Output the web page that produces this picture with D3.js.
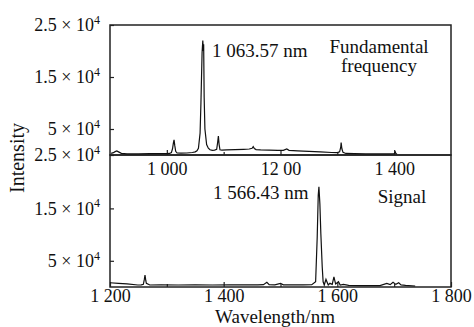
<!DOCTYPE html>
<html>
<head>
<meta charset="utf-8">
<script src="https://cdn.jsdelivr.net/npm/d3@7"></script>
<style>
  html, body { margin: 0; padding: 0; background: #fff; }
  svg text { font-family: "Liberation Serif", "Times New Roman", Times, "DejaVu Serif", serif; fill: #111; }
</style>
</head>
<body>
<div id="chart"></div>
<script>
// fundamental spectrum (upper panel)
const fundWl = [902, 906, 909, 912, 915, 920, 930, 950, 970, 990, 1000, 1005, 1008, 1010, 1011.5, 1012.7, 1014, 1015.6, 1018, 1025, 1035, 1045, 1050, 1053, 1055.6, 1058.5, 1060, 1062, 1063.3, 1064.2, 1064.8, 1065.7, 1067, 1070, 1073, 1076, 1080, 1084, 1087.7, 1089.5, 1090.7, 1092, 1093.5, 1097, 1105, 1120, 1135, 1145, 1150, 1152, 1154, 1157, 1165, 1180, 1195, 1205, 1211, 1215, 1230, 1250, 1270, 1290, 1300, 1304, 1306, 1306.7, 1308, 1310, 1315, 1330, 1350, 1370, 1390, 1400, 1402, 1403, 1405];
const fundVal = [320, 450, 650, 770, 600, 320, 220, 230, 250, 260, 280, 300, 450, 1200, 2300, 2900, 1800, 700, 380, 350, 380, 480, 600, 800, 1290, 4200, 10000, 19600, 22000, 20000, 21300, 11000, 5000, 2000, 1300, 1000, 900, 950, 1100, 2500, 3650, 2000, 1000, 950, 1000, 1050, 1100, 1150, 1300, 1600, 1250, 1050, 1000, 950, 900, 900, 1150, 900, 800, 700, 600, 480, 450, 600, 1500, 2400, 1200, 500, 300, 250, 230, 220, 220, 250, 580, 300, 200];

// signal spectrum (lower panel)
const sigWl = [1200, 1215, 1230, 1249, 1255, 1258.7, 1260.5, 1261.6, 1263, 1264, 1270, 1290, 1320, 1350, 1380, 1410, 1440, 1460, 1470, 1476, 1480, 1490, 1500, 1505, 1520, 1540, 1555, 1561.8, 1564.6, 1566.4, 1567.6, 1569.3, 1571, 1573.4, 1575, 1577, 1580, 1584, 1587, 1591, 1594, 1597, 1602, 1605, 1610.6, 1620, 1640, 1660, 1675, 1687, 1693, 1698, 1703, 1708, 1712, 1720, 1737];
const sigVal = [815, 700, 600, 380, 420, 510, 1500, 2270, 1200, 700, 380, 400, 380, 420, 380, 400, 420, 400, 450, 890, 450, 400, 700, 420, 400, 420, 450, 1000, 9530, 17500, 19130, 15850, 10170, 3850, 1000, 380, 1450, 380, 700, 500, 1950, 570, 1000, 380, 500, 300, 250, 280, 250, 700, 450, 890, 500, 800, 400, 300, 190];

// ticks
const topXTicks = [1000, 1200, 1400];
const topXLabels = ["1 000", "12 00", "1 400"];
const botXTicks = [1200, 1400, 1600, 1800];
const botXLabels = ["1 200", "1 400", "1 600", "1 800"];
const topYTicks = [0, 5000, 15000, 25000];
const topYLabels = ["2.5 \u00d7 10", "5 \u00d7 10", "1.5 \u00d7 10", "2.5 \u00d7 10"];
const botYTicks = [5000, 15000];
const botYLabels = ["5 \u00d7 10", "1.5 \u00d7 10"];

const width = 474, height = 327;
const left = 110, right = 451;
const topY0 = 25, midY = 155, botY1 = 287;
const serif = '"Liberation Serif", "Times New Roman", Times, serif';

const svg = d3.select('#chart').append('svg')
  .attr('width', width)
  .attr('height', height);

const xTop = d3.scaleLinear().domain([900, 1500]).range([left, right]);
const xBot = d3.scaleLinear().domain([1200, 1800]).range([left, right]);
const yTop = d3.scaleLinear().domain([0, 25000]).range([midY, topY0]);
const yBot = d3.scaleLinear().domain([0, 25000]).range([botY1, midY + 1]);

function styleAxis(g) {
  g.attr('font-family', serif);
  g.select('.domain').remove();
  g.selectAll('line').attr('stroke', '#222').attr('stroke-width', 1.2);
  g.selectAll('text').attr('font-size', 18).attr('fill', '#111');
}

// x axes, ticks pointing inward
svg.append('g')
  .attr('transform', `translate(0,${midY})`)
  .call(d3.axisBottom(xTop).tickValues(topXTicks).tickSize(-5).tickPadding(7)
    .tickFormat((d, i) => topXLabels[i]))
  .call(styleAxis);

svg.append('g')
  .attr('transform', `translate(0,${midY})`)
  .call(d3.axisBottom(xTop).tickValues([1100, 1300]).tickSize(-3).tickFormat(''))
  .call(styleAxis);

svg.append('g')
  .attr('transform', `translate(0,${botY1})`)
  .call(d3.axisBottom(xBot).tickValues(botXTicks).tickSize(-5).tickPadding(2)
    .tickFormat((d, i) => botXLabels[i]))
  .call(styleAxis);

svg.append('g')
  .attr('transform', `translate(0,${botY1})`)
  .call(d3.axisBottom(xBot).tickValues([1300, 1500, 1700]).tickSize(-3).tickFormat(''))
  .call(styleAxis);

// y axes with superscript exponent
function supLabels(labels) {
  return g => g.selectAll('.tick text').each(function (d, i) {
    const t = d3.select(this);
    t.text(null);
    t.append('tspan').text(labels[i]);
    t.append('tspan').attr('font-size', 12).attr('dy', '-0.6em').text('4');
  });
}

svg.append('g')
  .attr('transform', `translate(${left},0)`)
  .call(d3.axisLeft(yTop).tickValues(topYTicks).tickSize(-4).tickPadding(10).tickFormat(() => ''))
  .call(styleAxis)
  .call(supLabels(topYLabels));

svg.append('g')
  .attr('transform', `translate(${left},0)`)
  .call(d3.axisLeft(yBot).tickValues(botYTicks).tickSize(-4).tickPadding(10).tickFormat(() => ''))
  .call(styleAxis)
  .call(supLabels(botYLabels));

// frames
svg.append('rect')
  .attr('x', left).attr('y', topY0)
  .attr('width', right - left).attr('height', midY - topY0)
  .attr('fill', 'none').attr('stroke', '#222').attr('stroke-width', 1.5);
svg.append('rect')
  .attr('x', left).attr('y', midY)
  .attr('width', right - left).attr('height', botY1 - midY)
  .attr('fill', 'none').attr('stroke', '#222').attr('stroke-width', 1.5);

// spectra
const fundLine = d3.line().x((d, i) => xTop(fundWl[i])).y(d => yTop(d));
const sigLine = d3.line().x((d, i) => xBot(sigWl[i])).y(d => yBot(d));

svg.append('path')
  .attr('d', fundLine(fundVal))
  .attr('fill', 'none').attr('stroke', '#111').attr('stroke-width', 1.2);
svg.append('path')
  .attr('d', sigLine(sigVal))
  .attr('fill', 'none').attr('stroke', '#111').attr('stroke-width', 1.2);

// annotations
const ann = svg.append('g').attr('font-family', serif).attr('font-size', 19);
ann.append('text').attr('x', 212).attr('y', 57).text('1 063.57 nm');
ann.append('text').attr('x', 379).attr('y', 53).attr('text-anchor', 'middle').text('Fundamental');
ann.append('text').attr('x', 379).attr('y', 72).attr('text-anchor', 'middle').text('frequency');
ann.append('text').attr('x', 213).attr('y', 199).text('1 566.43 nm');
ann.append('text').attr('x', 402).attr('y', 203).attr('text-anchor', 'middle').text('Signal');

ann.append('text')
  .attr('transform', 'translate(24,158) rotate(-90)')
  .attr('text-anchor', 'middle').attr('font-size', 20)
  .text('Intensity');
ann.append('text')
  .attr('x', 275).attr('y', 323)
  .attr('text-anchor', 'middle').attr('font-size', 19)
  .text('Wavelength/nm');
</script>
</body>
</html>
